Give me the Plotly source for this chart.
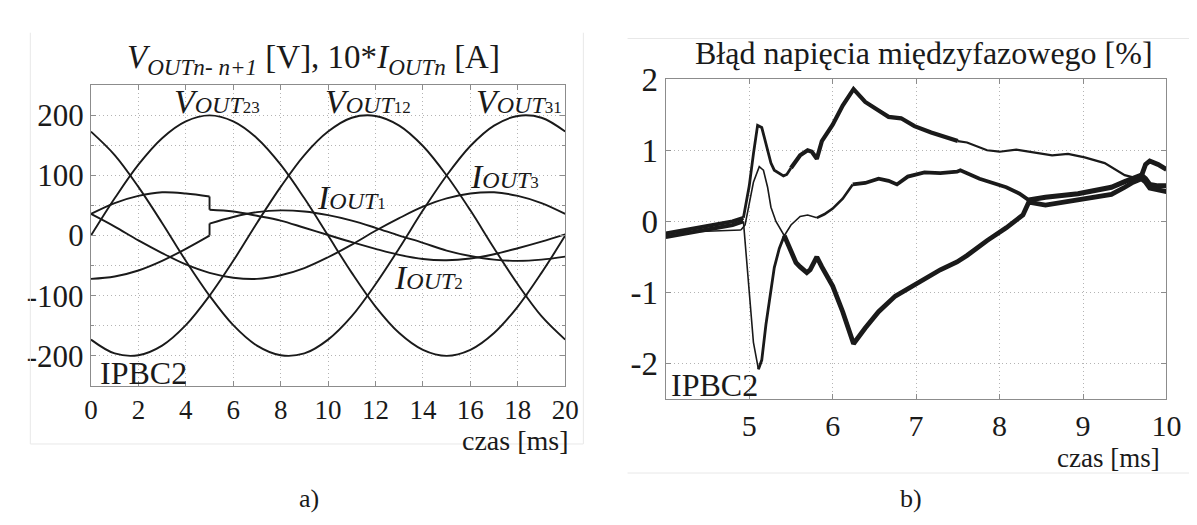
import plotly.graph_objects as go

W, H = 1197, 525
FONT = "Liberation Serif"
INK = "#1a1a1a"
FRAME = "#8c8c8c"
GRID = "#b4b4b4"

# ---------------- chart a) : voltages and 10*currents ----------------
t_v = [0, 1, 2, 3, 4, 5, 6, 7, 8, 9, 10, 11, 12, 13, 14, 15, 16, 17, 18, 19, 20]
v_out23 = [0, 62, 118, 162, 190, 200, 190, 162, 118, 62, 0, -62, -118, -162, -190, -200, -190, -162, -118, -62, 0]
v_out12 = [-173, -196, -199, -183, -149, -100, -42, 21, 81, 134, 173, 196, 199, 183, 149, 100, 42, -21, -81, -134, -173]
v_out31 = [173, 134, 81, 21, -42, -100, -149, -183, -199, -196, -173, -134, -81, -21, 42, 100, 149, 183, 199, 196, 173]

t_pre = [0, 1, 2, 3, 4, 5]
i_out1_pre = [-72, -68, -58, -42, -22, 0]
i_out2_pre = [36, 54, 66, 72, 70, 65]
t_post = [5, 6, 7, 8, 9, 10, 11, 12, 13, 14, 15, 16, 17, 18, 19, 20]
i_out1_post = [20, 31, 39, 42, 40, 34, 25, 13, 0, -12, -25, -34, -40, -42, -40, -35]
i_out2_post = [43, 40, 33, 25, 13, 1, -11, -22, -32, -39, -41, -38, -31, -21, -10, 2]
t_i3 = [0, 1, 2, 3, 4, 5, 6, 7, 8, 9, 10, 11, 12, 13, 14, 15, 16, 17, 18, 19, 20]
i_out3 = [36, 15, -8, -29, -48, -62, -70, -72, -66, -54, -36, -15, 8, 29, 48, 62, 70, 72, 66, 54, 36]

a_xticks = [0, 2, 4, 6, 8, 10, 12, 14, 16, 18, 20]
a_yticks = [-200, -100, 0, 100, 200]
a_yticklabels = ["-200", "-100", "0", "100", "200"]

# ---------------- chart b) : line-voltage error [%] ----------------
e1_t = [4.0, 4.2, 4.4, 4.6, 4.8, 4.93, 5.0, 5.05, 5.1, 5.15, 5.2, 5.26, 5.3, 5.35, 5.41, 5.45, 5.5,
        5.56, 5.61, 5.7, 5.75, 5.81, 5.87, 6.0, 6.12, 6.25, 6.3, 6.39, 6.55, 6.67, 6.82, 6.98, 7.18,
        7.37, 7.5, 7.61, 7.85, 8.0, 8.2, 8.39, 8.63, 8.82, 9.02, 9.26, 9.41, 9.5, 9.6, 9.7, 9.75,
        9.8, 9.9, 10.0]
e1 = [-0.17, -0.13, -0.09, -0.05, 0.0, 0.05, 0.5, 0.95, 1.35, 1.32, 1.1, 0.82, 0.72, 0.68, 0.64, 0.66, 0.75,
      0.86, 0.93, 1.0, 0.98, 0.88, 1.13, 1.36, 1.63, 1.86, 1.8, 1.68, 1.56, 1.47, 1.45, 1.34, 1.25,
      1.18, 1.13, 1.11, 1.0, 0.98, 1.01, 0.97, 0.93, 0.95, 0.9, 0.82, 0.71, 0.65, 0.62, 0.64, 0.8,
      0.85, 0.8, 0.73]

e2_t = [4.0, 4.3, 4.6, 4.9, 4.95, 5.0, 5.05, 5.12, 5.17, 5.22, 5.26, 5.32, 5.38, 5.42, 5.5, 5.56,
        5.61, 5.7, 5.81, 5.9, 6.0, 6.12, 6.24, 6.39, 6.55, 6.67, 6.77, 6.9, 7.1, 7.29, 7.49, 7.53,
        7.76, 8.08, 8.24, 8.35, 8.55, 8.94, 9.25, 9.34, 9.5, 9.6, 9.7, 9.75, 9.8, 9.9, 10.0]
e2 = [-0.16, -0.15, -0.13, -0.12, -0.05, 0.25, 0.55, 0.77, 0.72, 0.48, 0.2, 0.0, -0.13, -0.2, -0.05, 0.02,
      0.07, 0.09, 0.05, 0.1, 0.18, 0.32, 0.52, 0.54, 0.6, 0.57, 0.52, 0.63, 0.69, 0.68, 0.7, 0.72,
      0.6, 0.48, 0.39, 0.3, 0.34, 0.39, 0.46, 0.48, 0.56, 0.6, 0.65, 0.6, 0.52, 0.5, 0.5]

e3_t = [4.0, 4.2, 4.4, 4.6, 4.8, 4.93, 4.97, 5.0, 5.05, 5.11, 5.15, 5.2, 5.26, 5.3, 5.36, 5.42, 5.5,
        5.56, 5.61, 5.69, 5.73, 5.81, 5.87, 6.0, 6.12, 6.25, 6.39, 6.55, 6.75, 6.9, 7.1, 7.29, 7.49,
        7.61, 7.85, 8.08, 8.28, 8.35, 8.55, 8.94, 9.25, 9.34, 9.5, 9.6, 9.7, 9.75, 9.8, 9.9, 10.0]
e3 = [-0.22, -0.18, -0.14, -0.1, -0.05, 0.0, -0.55, -1.05, -1.7, -2.08, -1.95, -1.45, -0.95, -0.65, -0.38, -0.2, -0.4,
      -0.58, -0.64, -0.72, -0.68, -0.5, -0.64, -0.91, -1.27, -1.72, -1.5, -1.27, -1.05, -0.95, -0.82, -0.68, -0.57,
      -0.48, -0.27, -0.09, 0.09, 0.27, 0.23, 0.3, 0.36, 0.38, 0.48, 0.55, 0.6, 0.55, 0.47, 0.45, 0.42]

b_xticks = [5, 6, 7, 8, 9, 10]
b_yticks = [-2, -1, 0, 1, 2]
b_yticklabels = ["-2", "-1", "0", "1", "2"]

# ---------------------------------------------------------------------
fig = go.Figure()


def add_line(x, y, axes, width=1.8, shape="linear"):
    fig.add_trace(go.Scatter(
        x=x, y=y, mode="lines", xaxis=axes[0], yaxis=axes[1],
        line=dict(color=INK, width=width, shape=shape),
        showlegend=False, hoverinfo="skip"))


A = ("x", "y")
B = ("x2", "y2")

for series in (v_out23, v_out12, v_out31):
    add_line(t_v, series, A, 1.9, "spline")
add_line(t_i3, i_out3, A, 1.9, "spline")
for pre, post in ((i_out1_pre, i_out1_post), (i_out2_pre, i_out2_post)):
    add_line(t_pre, pre, A, 1.9, "spline")
    add_line(t_post, post, A, 1.9, "spline")
    add_line([t_pre[-1], t_post[0]], [pre[-1], post[0]], A, 1.9)


def add_segments(ts, es, spec):
    for a, b, w in spec:
        xs = [t for t in ts if a - 1e-9 <= t <= b + 1e-9]
        ys = [e for t, e in zip(ts, es) if a - 1e-9 <= t <= b + 1e-9]
        add_line(xs, ys, B, w)


add_segments(e1_t, e1, [(4.0, 4.93, 4.0), (4.93, 5.5, 2.8), (5.5, 7.5, 4.2), (7.5, 9.7, 2.2), (9.7, 10.0, 4.8)])
add_segments(e2_t, e2, [(4.0, 4.9, 1.6), (4.9, 5.81, 1.6), (5.81, 6.24, 2.6), (6.24, 8.35, 3.8), (8.35, 10.0, 5.0)])
add_segments(e3_t, e3, [(4.0, 4.93, 4.0), (4.93, 5.11, 1.6), (5.11, 5.42, 2.8), (5.42, 10.0, 4.8)])


def axis_common(size):
    return dict(showgrid=True, gridcolor=GRID, griddash="1px,3px", gridwidth=1,
                showline=True, linecolor=FRAME, linewidth=1.3, mirror="ticks",
                ticks="inside", ticklen=5, tickcolor=FRAME, zeroline=False,
                tickfont=dict(family=FONT, size=size, color=INK))


fig.update_layout(
    width=W, height=H, margin=dict(l=0, r=0, t=0, b=0),
    paper_bgcolor="white", plot_bgcolor="white", showlegend=False,
    xaxis=dict(domain=[77.4 / W, 560.5 / W], range=[0, 20], tickvals=a_xticks,
               anchor="y", **axis_common(27)),
    yaxis=dict(domain=[1 - 373 / H, 1 - 62.3 / H], range=[-250, 250], tickvals=a_yticks,
               ticktext=a_yticklabels, anchor="x",
               minor=dict(dtick=50, tick0=0, showgrid=True, gridcolor=GRID, griddash="1px,3px",
                          ticks="inside", ticklen=3, tickcolor=FRAME),
               **axis_common(31)),
    xaxis2=dict(domain=[663 / W, 1173 / W], range=[4, 10], tickvals=b_xticks,
                anchor="y2", **axis_common(30)),
    yaxis2=dict(domain=[1 - 386.7 / H, 1 - 56 / H], range=[-2.5, 2], tickvals=b_yticks,
                ticktext=b_yticklabels, anchor="x2", **axis_common(33)),
)


def px(x, y):
    return x / W, 1 - y / H


def note(text, x, y, size, xanchor="center", yanchor="middle", xref="paper", yref="paper"):
    if xref == "paper":
        x, y = px(x, y)
    fig.add_annotation(text=text, x=x, y=y, xref=xref, yref=yref, showarrow=False,
                       xanchor=xanchor, yanchor=yanchor,
                       font=dict(family=FONT, size=size, color=INK))


def vlabel(letter, num):
    return (f"<i>{letter}</i><span style='font-size:24px'><i>OUT</i></span>"
            f"<span style='font-size:17px'>{num}</span>")


# titles
note("<i>V</i><sub><i>OUTn- n+1</i></sub> [V], 10*<i>I</i><sub><i>OUTn</i></sub> [A]", 304, 36, 33)
note("Błąd napięcia międzyfazowego [%]", 926, 29, 32)

# curve labels in chart a)
for letter, num, tx, vy in (("V", "23", 5.3, 223), ("V", "12", 11.7, 223), ("V", "31", 18.05, 223),
                            ("I", "1", 11.0, 64), ("I", "2", 14.25, -70), ("I", "3", 17.45, 99)):
    note(vlabel(letter, num), tx, vy, 34, xref="x", yref="y")

note("IPBC2", 0.3, -229, 32, xanchor="left", xref="x", yref="y")
note("IPBC2", 4.04, -2.3, 32, xanchor="left", xref="x2", yref="y2")

# axis names
note("czas [ms]", 566, 429, 28, xanchor="right")
note("czas [ms]", 1168, 447, 27, xanchor="right")

# panel letters
note("a)", 300, 489, 26)
note("b)", 913, 489, 26)

# faint panel frames
frame = dict(color="#e8e8e8", width=1)
for x0, y0, x1, y1 in ((15.6, 433, 579, 433), (15.6, 8, 15.6, 433), (579, 8, 579, 433),
                       (624, 14, 1197, 14), (624, 463, 1197, 463)):
    a0 = px(x0, y0)
    a1 = px(x1, y1)
    fig.add_shape(type="line", xref="paper", yref="paper", x0=a0[0], y0=a0[1], x1=a1[0], y1=a1[1],
                  line=frame)

fig.write_html("out.html")
